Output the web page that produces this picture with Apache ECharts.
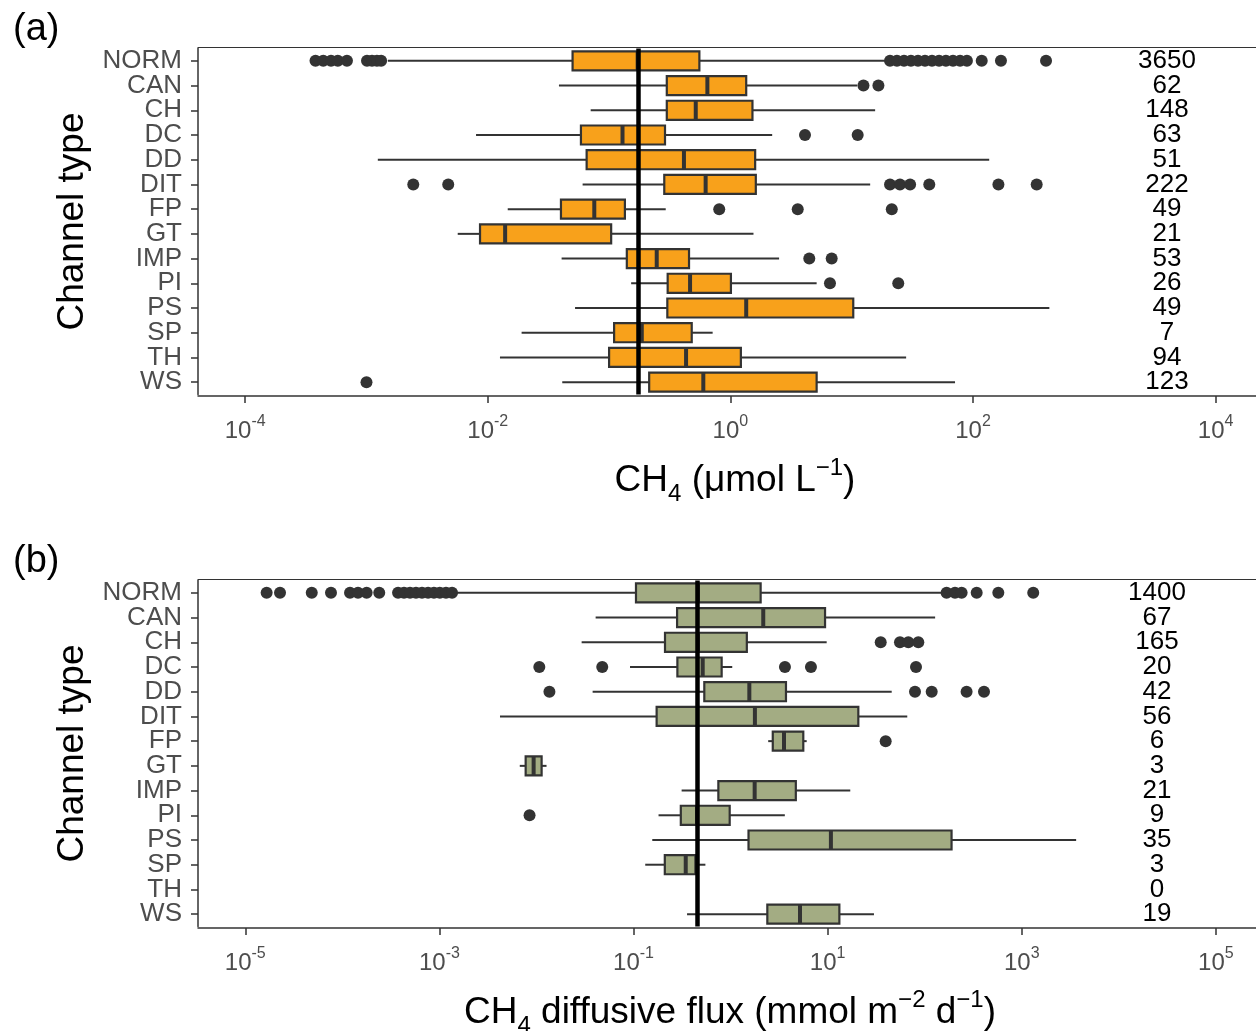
<!DOCTYPE html>
<html>
<head>
<meta charset="utf-8">
<title>Channel type boxplots</title>
<script src="https://cdn.jsdelivr.net/npm/echarts@6/dist/echarts.min.js"></script>
<style>
  html, body { margin: 0; padding: 0; background: #fff; }
  #chart { width: 1256px; height: 1031px; }
</style>
</head>
<body>
<div id="chart"></div>
<script>
// channel types, top to bottom
const categories = ['NORM', 'CAN', 'CH', 'DC', 'DD', 'DIT', 'FP', 'GT', 'IMP', 'PI', 'PS', 'SP', 'TH', 'WS'];

// (a) CH4 concentration (umol/L): [lower whisker, Q1, median, Q3, upper whisker]
const concStats = [
  [0.0015, 0.050, 0.172, 0.555, 18.8],
  [0.0386, 0.299, 0.646, 1.35, 11.1],
  [0.0705, 0.299, 0.518, 1.52, 15.6],
  [0.0080, 0.0586, 0.129, 0.289, 2.21],
  [0.00124, 0.0653, 0.414, 1.60, 136],
  [0.0605, 0.285, 0.625, 1.62, 14.2],
  [0.0146, 0.0401, 0.0755, 0.135, 0.293],
  [0.00565, 0.00863, 0.0139, 0.104, 1.55],
  [0.0406, 0.140, 0.247, 0.456, 2.52],
  [0.152, 0.304, 0.465, 1.01, 5.14],
  [0.0524, 0.302, 1.35, 10.3, 426],
  [0.0190, 0.110, 0.186, 0.480, 0.714],
  [0.0126, 0.100, 0.431, 1.22, 28.1],
  [0.0411, 0.214, 0.598, 5.14, 71.1]
];
const concOutliers = [
  [0.00038, 0.00044, 0.00051, 0.00058, 0.00069, 0.00101, 0.00111, 0.00122, 0.00132,
   20.7, 23.6, 27.0, 30.8, 35.2, 40.2, 45.9, 52.5, 59.8, 68.4, 78.2, 89.1, 118, 170, 400],
  [12.5, 16.6],
  [],
  [4.12, 11.2],
  [],
  [0.00243, 0.00472, 20.7, 25.0, 30.3, 43.6, 162, 335],
  [0.809, 3.59, 21.4],
  [],
  [4.47, 6.84],
  [6.62, 24.2],
  [],
  [],
  [],
  [0.0010]
];
const concCounts = [3650, 62, 148, 63, 51, 222, 49, 21, 53, 26, 49, 7, 94, 123];
const concRefLine = 0.172;
const concTicks = [1e-4, 1e-2, 1, 1e2, 1e4];

// (b) CH4 diffusive flux (mmol m-2 d-1)
const fluxStats = [
  [0.00145, 0.106, 0.461, 2.04, 155],
  [0.0407, 0.281, 2.17, 9.40, 128],
  [0.0292, 0.211, 0.461, 1.47, 9.77],
  [0.0920, 0.283, 0.516, 0.809, 1.04],
  [0.0379, 0.536, 1.56, 3.72, 45.7],
  [0.00421, 0.173, 1.78, 20.7, 66.1],
  [2.44, 2.72, 3.55, 5.61, 6.08],
  [0.00673, 0.00774, 0.00935, 0.0113, 0.0127],
  [0.313, 0.748, 1.77, 4.70, 17.1],
  [0.181, 0.307, 0.451, 0.979, 3.62],
  [0.156, 1.53, 10.8, 189, 3631],
  [0.132, 0.210, 0.345, 0.434, 0.550],
  null,
  [0.356, 2.39, 5.19, 13.2, 30.0]
];
const fluxOutliers = [
  [1.66e-5, 2.28e-5, 4.84e-5, 7.64e-5, 1.20e-4, 1.45e-4, 1.78e-4, 2.40e-4, 3.75e-4,
   4.32e-4, 4.98e-4, 5.74e-4, 6.62e-4, 7.64e-4, 8.79e-4, 1.01e-3, 1.17e-3, 1.35e-3,
   168, 205, 240, 343, 573, 1312],
  [],
  [35.2, 55.6, 67.8, 85.9],
  [0.0107, 0.0476, 3.63, 6.73, 81.3],
  [0.0136, 79.4, 118, 270, 408],
  [],
  [39.6],
  [],
  [],
  [0.00849],
  [],
  [],
  [],
  []
];
const fluxCounts = [1400, 67, 165, 20, 42, 56, 6, 3, 21, 9, 35, 3, 0, 19];
const fluxRefLine = 0.458;
const fluxTicks = [1e-5, 1e-3, 1e-1, 1e1, 1e3, 1e5];

const FONT = '"Liberation Sans", Arial, sans-serif';
const AXIS_GREY = '#333333';
const LABEL_GREY = '#4D4D4D';
const EDGE = 1.5; // panel frame sits a little outside the category range (ggplot expansion)

const lg = v => Math.log10(v);

// box + whiskers + thick median, ggplot style (no whisker caps)
const makeRender = fill => (params, api) => {
  const cat = api.value(0);
  const lo = api.coord([api.value(1), cat]);
  const q1 = api.coord([api.value(2), cat]);
  const md = api.coord([api.value(3), cat]);
  const q3 = api.coord([api.value(4), cat]);
  const hi = api.coord([api.value(5), cat]);
  const h = api.size([0, 1])[1] * 0.77;
  const y = lo[1];
  const stroke = { stroke: AXIS_GREY, lineWidth: 2 };
  return {
    type: 'group',
    children: [
      { type: 'line', shape: { x1: lo[0], y1: y, x2: q1[0], y2: y }, style: stroke },
      { type: 'line', shape: { x1: q3[0], y1: y, x2: hi[0], y2: y }, style: stroke },
      { type: 'rect', shape: { x: q1[0], y: y - h / 2, width: q3[0] - q1[0], height: h },
        style: { fill: fill, stroke: AXIS_GREY, lineWidth: 2.2 } },
      { type: 'line', shape: { x1: md[0], y1: y - h / 2, x2: md[0], y2: y + h / 2 },
        style: { stroke: AXIS_GREY, lineWidth: 4 } }
    ]
  };
};

const boxData = stats => stats
  .map((s, i) => s ? [i].concat(s.map(lg)) : null)
  .filter(d => d);

const outlierData = outs => {
  const pts = [];
  outs.forEach((list, i) => list.forEach(v => pts.push([lg(v), i])));
  return pts;
};

const tickFormatter = v => '10{s|' + Math.round(v) + '}';

const xAxisFor = (gridIndex, min, max, ticks, name, shift) => ({
  gridIndex: gridIndex,
  type: 'value',
  min: min,
  max: max,
  offset: EDGE,
  splitLine: { show: false },
  axisLine: { show: true, onZero: false, lineStyle: { color: AXIS_GREY, width: 1.5 } },
  axisTick: { show: true, length: 7, customValues: ticks.map(lg),
    lineStyle: { color: AXIS_GREY, width: 1.5 } },
  axisLabel: {
    customValues: ticks.map(lg),
    formatter: tickFormatter,
    color: LABEL_GREY,
    fontFamily: FONT,
    fontSize: 24,
    lineHeight: 34,
    margin: 18,
    rich: { s: { fontSize: 16, lineHeight: 16, verticalAlign: 'top', color: LABEL_GREY, fontFamily: FONT } }
  },
  name: name,
  nameLocation: 'middle',
  nameGap: 60,
  nameTextStyle: {
    color: '#000',
    fontFamily: FONT,
    fontSize: 37,
    lineHeight: 50,
    padding: [0, 0, 0, shift],
    rich: {
      sub: { fontSize: 24, lineHeight: 24, verticalAlign: 'bottom', color: '#000', fontFamily: FONT },
      sup: { fontSize: 24, lineHeight: 24, verticalAlign: 'top', color: '#000', fontFamily: FONT }
    }
  }
});

// plain line along the top of each panel
const topBorderFor = (gridIndex, min, max) => ({
  gridIndex: gridIndex,
  type: 'value',
  position: 'top',
  min: min,
  max: max,
  offset: EDGE,
  splitLine: { show: false },
  axisLine: { show: true, onZero: false, lineStyle: { color: AXIS_GREY, width: 1.2 } },
  axisTick: { show: false },
  axisLabel: { show: false }
});

const catAxisFor = gridIndex => ({
  gridIndex: gridIndex,
  type: 'category',
  data: categories,
  inverse: true,
  axisLine: { show: true, onZero: false, lineStyle: { color: AXIS_GREY, width: 1.5 } },
  axisTick: { show: true, alignWithLabel: true, length: 7, lineStyle: { color: AXIS_GREY, width: 1.5 } },
  axisLabel: { interval: 0, color: LABEL_GREY, fontFamily: FONT, fontSize: 26, margin: 16 },
  name: 'Channel type',
  nameLocation: 'middle',
  nameGap: 104,
  nameTextStyle: { color: '#000', fontFamily: FONT, fontSize: 37 }
});

const countAxisFor = (gridIndex, counts, margin) => ({
  gridIndex: gridIndex,
  type: 'category',
  data: counts.map(String),
  inverse: true,
  position: 'right',
  axisLine: { show: false, onZero: false },
  axisTick: { show: false },
  splitLine: { show: false },
  axisLabel: { interval: 0, inside: true, margin: margin, align: 'center', color: '#000', fontFamily: FONT, fontSize: 26 }
});

const refLine = v => ({
  silent: true,
  symbol: ['none', 'none'],
  label: { show: false },
  lineStyle: { color: '#000', width: 4.5, type: 'solid' },
  data: [{ xAxis: lg(v) }]
});

const concRange = [-4.389, 4.333];
const fluxRange = [-5.487, 5.413];

const chart = echarts.init(document.getElementById('chart'));
chart.setOption({
  animation: false,
  backgroundColor: '#fff',
  textStyle: { fontFamily: FONT },
  title: [
    { text: '(a)', left: 8, top: 6, textStyle: { fontSize: 38, fontWeight: 'normal', color: '#000', fontFamily: FONT } },
    { text: '(b)', left: 8, top: 538, textStyle: { fontSize: 38, fontWeight: 'normal', color: '#000', fontFamily: FONT } }
  ],
  grid: [
    { left: 198, top: 47 + EDGE, right: 0, height: 349 - 2 * EDGE, outerBoundsMode: 'none' },
    { left: 198, top: 579 + EDGE, right: 0, height: 349 - 2 * EDGE, outerBoundsMode: 'none' }
  ],
  xAxis: [
    xAxisFor(0, concRange[0], concRange[1], concTicks, 'CH{sub|4} (μmol L{sup|−1})', 16),
    xAxisFor(1, fluxRange[0], fluxRange[1], fluxTicks, 'CH{sub|4} diffusive flux (mmol m{sup|−2} d{sup|−1})', 6),
    topBorderFor(0, concRange[0], concRange[1]),
    topBorderFor(1, fluxRange[0], fluxRange[1])
  ],
  yAxis: [
    catAxisFor(0),
    countAxisFor(0, concCounts, 89),
    catAxisFor(1),
    countAxisFor(1, fluxCounts, 99)
  ],
  series: [
    {
      type: 'custom', xAxisIndex: 0, yAxisIndex: 0, z: 2,
      renderItem: makeRender('#F8A11B'),
      encode: { x: [1, 2, 3, 4, 5], y: 0 },
      data: boxData(concStats)
    },
    {
      type: 'scatter', xAxisIndex: 0, yAxisIndex: 0, z: 3,
      symbolSize: 12,
      itemStyle: { color: AXIS_GREY, opacity: 1 },
      data: outlierData(concOutliers),
      markLine: refLine(concRefLine)
    },
    {
      type: 'custom', xAxisIndex: 1, yAxisIndex: 2, z: 2,
      renderItem: makeRender('#A3AC83'),
      encode: { x: [1, 2, 3, 4, 5], y: 0 },
      data: boxData(fluxStats)
    },
    {
      type: 'scatter', xAxisIndex: 1, yAxisIndex: 2, z: 3,
      symbolSize: 12,
      itemStyle: { color: AXIS_GREY, opacity: 1 },
      data: outlierData(fluxOutliers),
      markLine: refLine(fluxRefLine)
    }
  ]
});
</script>
</body>
</html>
